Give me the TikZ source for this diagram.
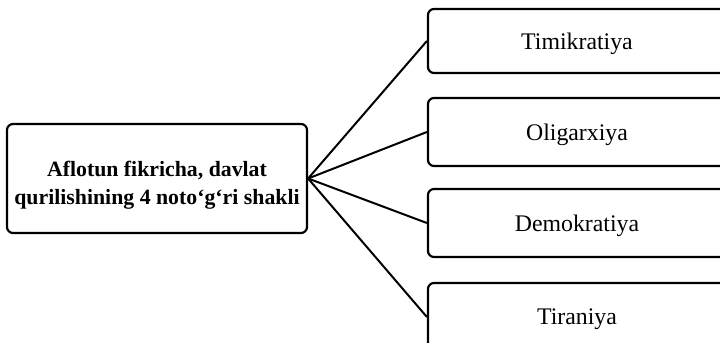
\documentclass[tikz,border=0pt]{standalone}
\usepackage{fontspec}
\setmainfont{Liberation Serif}
\begin{document}
\begin{tikzpicture}[x=0.5pt,y=-0.5pt,
  box/.style={draw=black, line width=1.1pt, rounded corners=3pt, inner sep=0pt},
  formbox/.style={box, minimum width=149pt, minimum height=34pt, text depth=0pt,
    font=\fontsize{11.9}{14}\selectfont},
  link/.style={draw=black, line width=1pt}]
\useasboundingbox (0,0) rectangle (720,343);
\clip (0,0) rectangle (720,343);
\fill[white] (0,0) rectangle (720,343);
% left box
\node[box, minimum width=150pt, minimum height=54.5pt] (lb) at (157,178.5) {};
\node[align=center, inner sep=0pt, font=\fontsize{10.9}{14}\selectfont\bfseries]
  (lbt) at (157,185) {Aflotun fikricha, davlat\\qurilishining 4 noto‘g‘ri shakli};
% right boxes
\node[formbox, minimum height=32pt] (b1) at (577,41) {Timikratiya};
\node[formbox] (b2) at (577,132) {Oligarxiya};
\node[formbox] (b3) at (577,223) {Demokratiya};
\node[formbox] (b4) at (577,317) {Tiraniya};
% connectors
\foreach \b in {b1,b2,b3,b4}
  \draw[link] (lb.east) -- (\b.west);
\end{tikzpicture}
\end{document}
